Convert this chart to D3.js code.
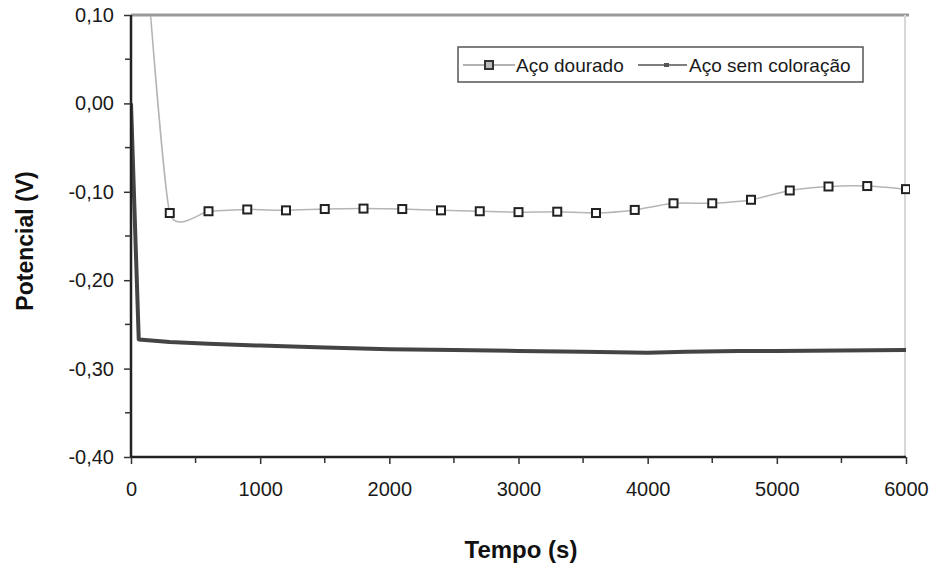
<!DOCTYPE html>
<html>
<head>
<meta charset="utf-8">
<script src="https://cdn.jsdelivr.net/npm/d3@7"></script>
<style>
  body { margin: 0; background: #fff; }
  svg { display: block; font-family: "Liberation Sans", Arial, sans-serif; }
</style>
</head>
<body>
<svg id="chart" width="930" height="565"></svg>
<script>
// Aço dourado - measured every 300 s (plus the start point, above the axis range)
const douradoTime = [130, 300, 600, 900, 1200, 1500, 1800, 2100, 2400, 2700, 3000,
                     3300, 3600, 3900, 4200, 4500, 4800, 5100, 5400, 5700, 6000];
const douradoVal  = [0.14, -0.124, -0.122, -0.120, -0.121, -0.1195, -0.119, -0.1195, -0.121, -0.122, -0.123,
                     -0.1225, -0.124, -0.1205, -0.113, -0.113, -0.109, -0.0985, -0.094, -0.0935, -0.097];

// Aço sem coloração
const semTime = [0, 60, 300, 600, 1000, 1500, 2000, 2500, 3000, 3500, 4000, 4300, 4700, 5000, 5500, 6000];
const semVal  = [0.000, -0.267, -0.270, -0.272, -0.274, -0.276, -0.278, -0.279, -0.280, -0.281, -0.282,
                 -0.281, -0.280, -0.280, -0.2795, -0.279];

const xTicks = [0, 1000, 2000, 3000, 4000, 5000, 6000];
const yTicks = [0.10, 0.00, -0.10, -0.20, -0.30, -0.40];
const seriesNames = ['Aço dourado', 'Aço sem coloração'];

const svg = d3.select('#chart');
const plotL = 131, plotR = 906, plotT = 15, plotB = 457;

const x = d3.scaleLinear().domain([0, 6000]).range([plotL, plotR]);
const y = d3.scaleLinear().domain([-0.40, 0.10]).range([plotB, plotT]);

const fmt = v => d3.format('.2f')(v).replace('.', ',').replace('−', '-');

// frame: top and right border
svg.append('line')
  .attr('x1', plotL).attr('x2', plotR + 3).attr('y1', plotT).attr('y2', plotT)
  .attr('stroke', '#9a9a9a').attr('stroke-width', 3);
svg.append('line')
  .attr('x1', plotR - 1).attr('x2', plotR - 1).attr('y1', plotT).attr('y2', plotB)
  .attr('stroke', '#d8d8d8').attr('stroke-width', 2);

svg.append('clipPath').attr('id', 'plot')
  .append('rect').attr('x', plotL).attr('y', plotT + 1).attr('width', plotR - plotL + 4).attr('height', plotB - plotT);

const douradoData = douradoTime.map((t, i) => ({ t: t, v: douradoVal[i] }));
const semData = semTime.map((t, i) => ({ t: t, v: semVal[i] }));

const smooth = d3.line()
  .x(d => x(d.t))
  .y(d => y(d.v))
  .curve(d3.curveCardinal.tension(0.45));

const straight = d3.line()
  .x(d => x(d.t))
  .y(d => y(d.v));

const plot = svg.append('g').attr('clip-path', 'url(#plot)');

plot.append('path')
  .datum(semData)
  .attr('d', straight)
  .attr('fill', 'none')
  .attr('stroke', '#444')
  .attr('stroke-width', 4)
  .attr('stroke-linejoin', 'round');

plot.append('path')
  .datum(douradoData)
  .attr('d', smooth)
  .attr('fill', 'none')
  .attr('stroke', '#b5b5b5')
  .attr('stroke-width', 1.5);

plot.selectAll('rect.mk')
  .data(douradoData.slice(1))
  .enter()
  .append('rect')
  .attr('class', 'mk')
  .attr('x', d => x(d.t) - 4)
  .attr('y', d => y(d.v) - 4)
  .attr('width', 8)
  .attr('height', 8)
  .attr('fill', '#fff')
  .attr('stroke', '#222')
  .attr('stroke-width', 2);

// axes
const yAxis = d3.axisLeft(y).tickValues(yTicks).tickFormat(fmt).tickSize(7).tickPadding(10);
const gy = svg.append('g').attr('transform', `translate(${plotL},0)`).call(yAxis);
// minor y ticks
gy.selectAll('line.minor')
  .data(d3.range(-0.35, 0.10, 0.10))
  .enter().append('line')
  .attr('class', 'minor')
  .attr('x1', -6).attr('x2', 0)
  .attr('y1', d => y(d)).attr('y2', d => y(d))
  .attr('stroke', '#333').attr('stroke-width', 1.5);

const xAxis = d3.axisBottom(x).tickValues(xTicks).tickFormat(d3.format('d')).tickSize(7).tickPadding(18);
const gx = svg.append('g').attr('transform', `translate(0,${plotB})`).call(xAxis);
gx.selectAll('line.minor')
  .data(d3.range(500, 6000, 1000))
  .enter().append('line')
  .attr('class', 'minor')
  .attr('x1', d => x(d)).attr('x2', d => x(d))
  .attr('y1', 0).attr('y2', 6)
  .attr('stroke', '#333').attr('stroke-width', 1.5);

[gx, gy].forEach(g => {
  g.select('.domain').attr('stroke', '#222').attr('stroke-width', 2.5);
  g.selectAll('.tick line').attr('stroke', '#333').attr('stroke-width', 1.5);
  g.selectAll('.tick text')
    .attr('fill', '#1a1a1a')
    .style('font-size', '20px')
    .style('font-family', '"Liberation Sans", Arial, sans-serif');
});
gy.select('.domain').attr('d', `M0,${plotT}V${plotB}`);
gx.select('.domain').attr('d', `M${plotL},0H${plotR}`);

// axis titles
svg.append('text')
  .attr('x', 521).attr('y', 558)
  .attr('text-anchor', 'middle')
  .style('font-size', '24px').style('font-weight', 'bold')
  .attr('fill', '#111')
  .text('Tempo (s)');

svg.append('text')
  .attr('transform', 'translate(33,241) rotate(-90)')
  .attr('text-anchor', 'middle')
  .style('font-size', '23px').style('font-weight', 'bold')
  .attr('fill', '#111')
  .text('Potencial (V)');

// legend
const lg = svg.append('g');
lg.append('rect')
  .attr('x', 458).attr('y', 47).attr('width', 405).attr('height', 35)
  .attr('fill', '#fff').attr('stroke', '#555').attr('stroke-width', 1.5);

lg.append('line').attr('x1', 463).attr('x2', 515).attr('y1', 65).attr('y2', 65)
  .attr('stroke', '#999').attr('stroke-width', 1.5);
lg.append('rect').attr('x', 485).attr('y', 61).attr('width', 8).attr('height', 8)
  .attr('fill', '#bbb').attr('stroke', '#333').attr('stroke-width', 2);
lg.append('text').attr('x', 516).attr('y', 72)
  .style('font-size', '19px').attr('fill', '#1a1a1a').text(seriesNames[0]);

lg.append('line').attr('x1', 638).attr('x2', 687).attr('y1', 65).attr('y2', 65)
  .attr('stroke', '#555').attr('stroke-width', 1.5);
lg.append('rect').attr('x', 664).attr('y', 63).attr('width', 5).attr('height', 4)
  .attr('fill', '#555');
lg.append('text').attr('x', 689).attr('y', 72)
  .style('font-size', '19px').attr('fill', '#1a1a1a').text(seriesNames[1]);
</script>
</body>
</html>
